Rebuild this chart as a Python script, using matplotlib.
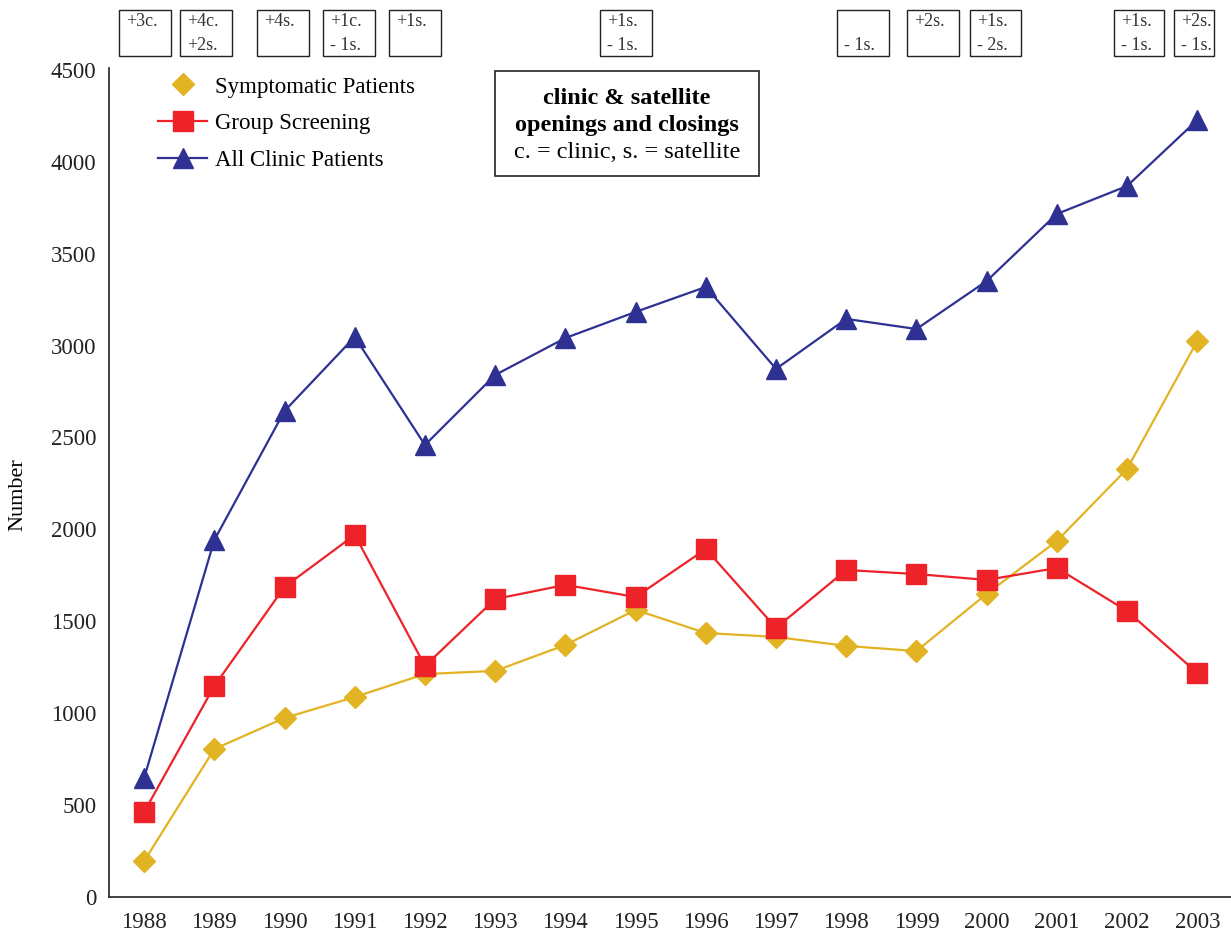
import matplotlib
matplotlib.use("Agg")
import matplotlib.pyplot as plt
from matplotlib.lines import Line2D
from matplotlib.patches import Rectangle

plt.rcParams['font.family'] = ['Liberation Serif', 'DejaVu Serif']

# data
years = list(range(1988, 2004))
symptomatic = [195, 805, 974, 1088, 1213, 1230, 1371, 1562, 1436, 1415, 1366, 1338, 1649, 1937, 2329, 3025]
group_screening = [462, 1148, 1687, 1970, 1257, 1621, 1698, 1632, 1893, 1464, 1779, 1757, 1725, 1790, 1556, 1219]
all_clinic = [647, 1942, 2644, 3047, 2459, 2840, 3041, 3183, 3319, 2873, 3145, 3090, 3351, 3716, 3868, 4227]

series_names = ["Symptomatic Patients", "Group Screening", "All Clinic Patients"]

# openings / closings notes (top line, bottom line)
note_text = [("+3c.", ""), ("+4c.", "+2s."), ("+4s.", ""), ("+1c.", "- 1s."), ("+1s.", ""),
             ("+1s.", "- 1s."), ("", "- 1s."), ("+2s.", ""), ("+1s.", "- 2s."),
             ("+1s.", "- 1s."), ("+2s.", "- 1s.")]
# box left / right edges in pixels
note_left = [119, 180, 257, 323, 389, 600, 837, 907, 970, 1114, 1174]
note_right = [171, 232, 309, 375, 441, 652, 889, 959, 1021, 1164, 1214]

yellow = "#E2B322"
red = "#EE2229"
blue = "#2E3192"

W, H = 1231, 934
fig = plt.figure(figsize=(W / 100, H / 100), dpi=100)
ax = fig.add_axes([109 / W, (H - 897) / H, 1 - 109 / W, (897 - 68) / H])

ax.plot(years, symptomatic, color=yellow, lw=1.6, marker="D", ms=11, mec=yellow, zorder=3)
ax.plot(years, group_screening, color=red, lw=1.6, marker="s", ms=14.5, mec=red, zorder=4)
ax.plot(years, all_clinic, color=blue, lw=1.6, marker="^", ms=15, mec=blue, zorder=5)

ax.set_xlim(1987.5, 2003.48)
ax.set_ylim(0, 4510)
ax.set_xticks(years)
ax.set_yticks(range(0, 4501, 500))
ax.tick_params(length=0, labelsize=16.5, colors="#222222")
ax.tick_params(axis="x", pad=11)
ax.tick_params(axis="y", pad=9)
for s in ["top", "right"]:
    ax.spines[s].set_visible(False)
for s in ["left", "bottom"]:
    ax.spines[s].set_color("#333333")
    ax.spines[s].set_linewidth(1.3)

fig.text(18 / W, 1 - 495 / H, "Number", rotation=90, ha="center", va="center", fontsize=16)

handles = [
    Line2D([], [], color=yellow, ls="none", marker="D", ms=11),
    Line2D([], [], color=red, lw=1.6, marker="s", ms=14.5),
    Line2D([], [], color=blue, lw=1.6, marker="^", ms=15),
]
ax.legend(handles, series_names, loc="upper left", bbox_to_anchor=(147 / W, 1 - 65 / H),
          bbox_transform=fig.transFigure, frameon=False, fontsize=16.5, borderpad=0,
          handlelength=2.1, handletextpad=0.38, labelspacing=0.68)

# info box
fig.patches.append(Rectangle((495 / W, 1 - 176 / H), (759 - 495) / W, (176 - 71) / H,
                             transform=fig.transFigure, fill=False, ec="#222222", lw=1.2))
fig.text(627 / W, 1 - 98 / H, "clinic & satellite", ha="center", va="center", fontsize=17.5, fontweight="bold")
fig.text(627 / W, 1 - 125 / H, "openings and closings", ha="center", va="center", fontsize=17.5, fontweight="bold")
fig.text(627 / W, 1 - 152 / H, "c. = clinic, s. = satellite", ha="center", va="center", fontsize=17.5)

# top note boxes
for (t1, t2), x0, x1 in zip(note_text, note_left, note_right):
    fig.patches.append(Rectangle((x0 / W, 1 - 56 / H), (x1 - x0) / W, 46 / H,
                                 transform=fig.transFigure, fill=False, ec="#222222", lw=1.0))
    fig.text((x0 + 7) / W, 1 - 22 / H, t1, ha="left", va="center", fontsize=13, color="#333333")
    fig.text((x0 + 7) / W, 1 - 45 / H, t2, ha="left", va="center", fontsize=13, color="#333333")

fig.savefig("out.png", dpi=100)
